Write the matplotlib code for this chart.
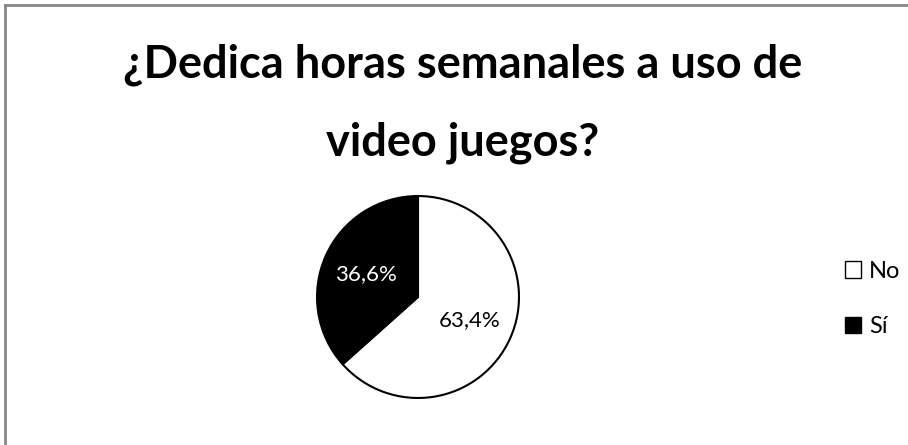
import matplotlib.pyplot as plt
from matplotlib.patches import Patch
from matplotlib.lines import Line2D

TITLE_LINES = ['¿Dedica horas semanales a uso de', 'video juegos?']
CATEGORIES = ['No', 'Sí']
SHARES = [63.4, 36.6]
FILL_COLORS = ['white', 'black']
LABEL_COLORS = ['black', 'white']

FONT = ['Lato', 'DejaVu Sans']
W, H = 908, 445


def pct_label(v):
    return f'{v:.1f}%'.replace('.', ',')


def main():
    fig = plt.figure(figsize=(W / 100, H / 100), dpi=100)
    fig.patch.set_facecolor('white')

    # chart area frame (left and top edges)
    border = dict(color='#878787', lw=2, transform=fig.transFigure)
    fig.add_artist(Line2D([5 / W, 5 / W], [0, 1 - 4.5 / H], **border))
    fig.add_artist(Line2D([5 / W, 1], [1 - 4.5 / H, 1 - 4.5 / H], **border))

    # title, one text per line so the baselines sit where we want them
    for line, base in zip(TITLE_LINES, [78, 155]):
        fig.text(463 / W, 1 - base / H, line, ha='center', va='baseline',
                 fontsize=32.5, fontweight='bold', family=FONT)

    # pie centred at (418, 297) px, radius 103 px
    cx, cy, r = 418, 297, 103
    ax = fig.add_axes([(cx - r) / W, (H - cy - r) / H, 2 * r / W, 2 * r / H])
    wedges, texts, autotexts = ax.pie(
        SHARES, colors=FILL_COLORS, startangle=90, counterclock=False,
        autopct=lambda v: pct_label(v), pctdistance=0.56,
        wedgeprops=dict(edgecolor='black', linewidth=1.5),
        textprops=dict(fontsize=16, family=FONT))
    for t, c in zip(autotexts, LABEL_COLORS):
        t.set_color(c)
    ax.set_xlim(-1.02, 1.02)
    ax.set_ylim(-1.02, 1.02)
    ax.set_aspect('equal')

    handles = [Patch(facecolor=fc, edgecolor='black', linewidth=1)
               for fc in FILL_COLORS]
    fig.legend(handles, CATEGORIES, loc='center left',
               bbox_to_anchor=(833 / W, 1 - 299 / H), frameon=False,
               prop=dict(family=FONT, size=17), handlelength=0.68,
               handleheight=0.68, handletextpad=0.35, labelspacing=1.45,
               borderpad=0)

    fig.savefig('out.png', dpi=100)


if __name__ == '__main__':
    main()
